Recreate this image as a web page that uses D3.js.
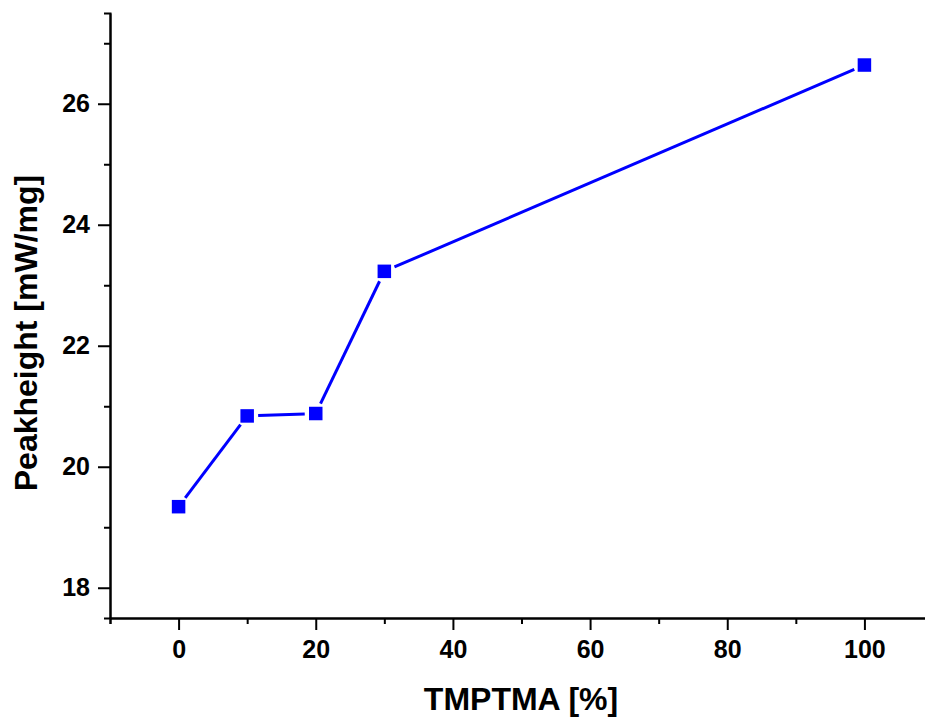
<!DOCTYPE html>
<html>
<head>
<meta charset="utf-8">
<script src="https://cdn.jsdelivr.net/npm/d3@7"></script>
<style>
  html, body { margin: 0; padding: 0; background: #fff; }
  svg { display: block; }
  text { font-family: "Liberation Sans", Arial, sans-serif; font-weight: bold; fill: #000; }
</style>
</head>
<body>
<svg id="chart" width="925" height="718"></svg>
<script>
const tmptma = [0, 10, 20, 30, 100]
const peakheight = [19.34, 20.84, 20.88, 23.23, 26.64]
const xMajorTicks = [0, 20, 40, 60, 80, 100]
const xMinorTicks = [-10, 10, 30, 50, 70, 90, 110]
const yMajorTicks = [18, 20, 22, 24, 26]
const yMinorTicks = [19, 21, 23, 25, 27]

const svg = d3.select('#chart')
const plotLeft = 110, plotRight = 933, plotTop = 13, plotBottom = 618

const x = d3.scaleLinear().domain([-10, 110]).range([plotLeft, plotRight])
const y = d3.scaleLinear().domain([17.5, 27.5]).range([plotBottom, plotTop])

function styleAxis(g) {
  g.select('.domain').attr('stroke', '#000').attr('stroke-width', 2)
  g.selectAll('.tick line').attr('stroke', '#000').attr('stroke-width', 2)
  g.selectAll('.tick text').style('font-size', '25px')
}

// x axis: minor then major
svg.append('g')
  .attr('transform', `translate(0,${plotBottom})`)
  .call(d3.axisBottom(x).tickValues(xMinorTicks).tickSize(6).tickFormat(''))
  .call(styleAxis)
svg.append('g')
  .attr('transform', `translate(0,${plotBottom})`)
  .call(d3.axisBottom(x).tickValues(xMajorTicks).tickSize(12).tickPadding(10).tickSizeOuter(0))
  .call(styleAxis)

// y axis: minor then major
svg.append('g')
  .attr('transform', `translate(${plotLeft},0)`)
  .call(d3.axisLeft(y).tickValues(yMinorTicks).tickSize(6).tickFormat(''))
  .call(styleAxis)
svg.append('g')
  .attr('transform', `translate(${plotLeft},0)`)
  .call(d3.axisLeft(y).tickValues(yMajorTicks).tickSize(12).tickPadding(8).tickSizeOuter(0))
  .call(styleAxis)

// line segments with gaps around markers
const pts = tmptma.map((v, i) => [x(v), y(peakheight[i])])
const gap = 11
const segs = d3.pairs(pts).map(([a, b]) => {
  const dx = b[0] - a[0], dy = b[1] - a[1]
  const len = Math.hypot(dx, dy)
  const ux = dx / len, uy = dy / len
  return [[a[0] + ux * gap, a[1] + uy * gap], [b[0] - ux * gap, b[1] - uy * gap]]
})
svg.append('g').selectAll('line')
  .data(segs)
  .join('line')
  .attr('x1', d => d[0][0]).attr('y1', d => d[0][1])
  .attr('x2', d => d[1][0]).attr('y2', d => d[1][1])
  .attr('stroke', '#0000ff')
  .attr('stroke-width', 3)

const ms = 13.5
svg.append('g').selectAll('rect')
  .data(pts)
  .join('rect')
  .attr('x', d => d[0] - ms / 2)
  .attr('y', d => d[1] - ms / 2)
  .attr('width', ms)
  .attr('height', ms)
  .attr('fill', '#0000ff')

// axis titles
svg.append('text')
  .attr('x', 521)
  .attr('y', 710)
  .attr('text-anchor', 'middle')
  .style('font-size', '32px')
  .text('TMPTMA [%]')

svg.append('text')
  .attr('transform', 'translate(37,333) rotate(-90)')
  .attr('text-anchor', 'middle')
  .style('font-size', '32px')
  .text('Peakheight [mW/mg]')
</script>
</body>
</html>
